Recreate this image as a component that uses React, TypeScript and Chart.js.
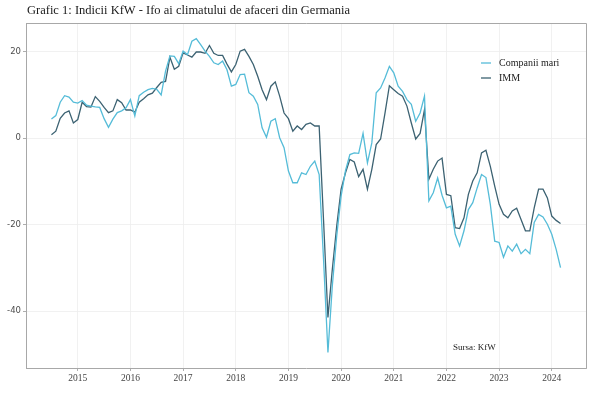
import React, { useEffect, useRef } from "react";
import { Chart, registerables } from "chart.js";

Chart.register(...registerables);

const TITLE = "Grafic 1: Indicii KfW - Ifo ai climatului de afaceri din Germania";
const SOURCE = "Sursa: KfW";
const SERIES_NAMES = ["Companii mari", "IMM"];
const SERIES_COLORS = ["#55bcd8", "#3c6272"];

// monthly observations; first one sits at 2014.5 on the time axis
const FIRST_PERIOD = 2014.5;

const companiiMari = [
  4.4, 5.2, 8.3, 9.8, 9.5, 8.3, 8.1, 8.7, 7.6, 7.4, 7.2, 7.1,
  4.5, 2.5, 4.4, 5.9, 6.3, 7.0, 8.9, 5.1, 9.8, 10.6, 11.2, 11.5,
  11.3, 10.0, 15.5, 19.0, 18.9, 17.2, 20.1, 19.3, 22.4, 23.0, 21.6, 20.1,
  18.9, 17.4, 17.0, 17.8, 15.8, 12.0, 12.4, 14.7, 14.8, 10.5, 9.7, 7.8,
  2.4, 0.2, 3.9, 4.5, 0.1, -2.2, -7.6, -10.3, -10.3, -8.0, -8.4, -6.5,
  -5.3, -8.4, -28.0, -49.5, -34.1, -22.6, -13.4, -7.5, -3.8, -3.4, -3.5, 1.1,
  -5.7, -1.1, 10.5, 11.6, 13.9, 16.6, 15.1, 12.0, 10.8, 8.9, 7.8, 3.9,
  5.8, 9.7, -14.5, -12.6, -9.2, -13.2, -16.1, -15.7, -22.2, -24.9, -21.4, -16.5,
  -14.9, -11.5, -8.4, -9.1, -15.3, -23.8, -24.1, -27.5, -24.9, -26.1, -24.5, -26.7,
  -25.7, -26.7, -19.5, -17.6, -18.2, -19.9, -22.2, -25.7, -29.9,
];

const imm = [
  0.8, 1.6, 4.6, 5.8, 6.3, 3.5, 4.3, 8.3, 7.3, 7.2, 9.6, 8.5,
  7.1, 5.9, 6.3, 8.9, 8.2, 6.5, 6.5, 6.0, 8.3, 9.1, 10.0, 10.4,
  11.7, 12.9, 13.1, 18.7, 15.9, 16.6, 19.7, 19.2, 18.7, 19.9, 19.9, 19.6,
  21.4, 19.6, 19.1, 19.1, 17.1, 15.3, 17.0, 20.1, 20.5, 18.9, 17.0, 14.3,
  11.2, 8.9, 12.0, 13.0, 9.7, 5.8, 4.5, 1.6, 2.8, 2.0, 3.2, 3.5,
  2.8, 2.8, -19.0, -41.4, -30.3, -20.3, -11.8, -8.0, -4.9, -5.5, -8.9, -7.2,
  -11.8, -7.2, -1.5, -0.2, 5.8, 12.1, 11.2, 10.3, 9.7, 7.4, 3.5, -0.2,
  1.1, 6.6, -9.5, -7.2, -5.3, -4.6, -13.0, -13.3, -20.7, -20.9, -18.4, -13.0,
  -9.9, -8.0, -3.4, -2.8, -6.5, -11.1, -15.3, -17.6, -18.4, -16.8, -16.2, -18.8,
  -21.4, -21.4, -16.1, -11.8, -11.8, -13.8, -18.0, -19.0, -19.7,
];

const xTickYears = [2015, 2016, 2017, 2018, 2019, 2020, 2021, 2022, 2023, 2024];
const yTickValues = [-40, -20, 0, 20];

const X_MIN = 2014.017;
const X_MAX = 2024.65;
const Y_MIN = -53.1;
const Y_MAX = 26.6;

const toPoints = (vals: number[]) =>
  vals.map((v, i) => ({ x: FIRST_PERIOD + i / 12, y: v }));

const decorPlugin = {
  id: "decor",
  afterDraw(chart: any) {
    const { ctx, chartArea } = chart;
    const { left, right, top, bottom } = chartArea;
    ctx.save();
    // panel border top / right
    ctx.strokeStyle = "#a8a8a8";
    ctx.lineWidth = 1;
    ctx.beginPath();
    ctx.moveTo(left, top + 0.5);
    ctx.lineTo(right + 0.5, top + 0.5);
    ctx.lineTo(right + 0.5, bottom);
    ctx.stroke();

    // title
    ctx.fillStyle = "#1a1a1a";
    ctx.font = '12.5px "Liberation Serif"';
    ctx.textBaseline = "middle";
    ctx.textAlign = "left";
    ctx.fillText(TITLE, left + 1, 11);

    // legend
    ctx.font = '10px "Liberation Serif"';
    SERIES_NAMES.forEach((name, k) => {
      const y = top + 40 + k * 15;
      const x0 = right - 105;
      ctx.strokeStyle = SERIES_COLORS[k];
      ctx.lineWidth = 1.3;
      ctx.beginPath();
      ctx.moveTo(x0, y);
      ctx.lineTo(x0 + 10, y);
      ctx.stroke();
      ctx.fillStyle = "#222";
      ctx.fillText(name, x0 + 18, y);
    });

    // source
    ctx.font = '9px "Liberation Serif"';
    ctx.fillStyle = "#222";
    ctx.fillText(SOURCE, right - 133, bottom - 20);
    ctx.restore();
  },
};

export default function App() {
  const ref = useRef<HTMLCanvasElement | null>(null);

  useEffect(() => {
    if (!ref.current) return;
    const chart = new Chart(ref.current, {
      type: "line",
      data: {
        datasets: [
          {
            label: SERIES_NAMES[0],
            data: toPoints(companiiMari),
            borderColor: SERIES_COLORS[0],
            borderWidth: 1.3,
            pointRadius: 0,
            tension: 0,
            fill: false,
          },
          {
            label: SERIES_NAMES[1],
            data: toPoints(imm),
            borderColor: SERIES_COLORS[1],
            borderWidth: 1.3,
            pointRadius: 0,
            tension: 0,
            fill: false,
          },
        ],
      },
      options: {
        animation: false,
        responsive: false,
        devicePixelRatio: 1,
        parsing: false as any,
        layout: { padding: { top: 23, right: 14, left: 0, bottom: 0 } },
        plugins: {
          legend: { display: false },
          title: { display: false },
          tooltip: { enabled: false },
        },
        scales: {
          x: {
            type: "linear",
            min: X_MIN,
            max: X_MAX,
            afterBuildTicks: (s: any) => {
              s.ticks = xTickYears.map((v) => ({ value: v }));
            },
            afterFit: (s: any) => {
              s.height = 31;
            },
            ticks: {
              autoSkip: false,
              maxRotation: 0,
              padding: 2,
              color: "#444",
              font: { family: "Liberation Serif", size: 9.5 },
              callback: (v: any) => String(v),
            },
            grid: {
              color: "#eeeeee",
              lineWidth: 0.8,
              tickColor: "#999",
              tickLength: 3,
            },
            border: { display: true, color: "#a8a8a8", width: 1 },
          },
          y: {
            type: "linear",
            min: Y_MIN,
            max: Y_MAX,
            afterBuildTicks: (s: any) => {
              s.ticks = yTickValues.map((v) => ({ value: v }));
            },
            afterFit: (s: any) => {
              s.width = 26;
            },
            ticks: {
              padding: 2,
              color: "#4d4d4d",
              font: { family: "DejaVu Sans", size: 8.5 },
              callback: (v: any) => String(v),
            },
            grid: {
              color: "#eeeeee",
              lineWidth: 0.8,
              tickColor: "#999",
              tickLength: 3,
            },
            border: { display: true, color: "#a8a8a8", width: 1 },
          },
        },
      },
      plugins: [decorPlugin],
    });
    return () => chart.destroy();
  }, []);

  return (
    <div
      style={{
        position: "absolute",
        left: 0,
        top: 0,
        width: 600,
        height: 399,
        background: "#fff",
      }}
    >
      <canvas ref={ref} width={600} height={399} />
    </div>
  );
}
